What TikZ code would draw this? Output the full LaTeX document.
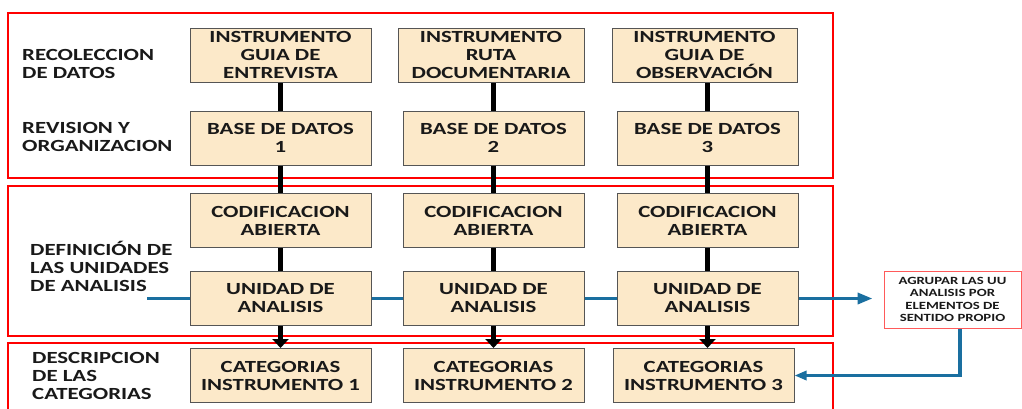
\documentclass[tikz,border=0pt]{standalone}
\usepackage{fontspec}
\usetikzlibrary{arrows.meta,calc}
\newfontfamily\bx[FakeStretch=1.34,UprightFont={* Bold}]{Carlito}
\definecolor{boxfill}{RGB}{252,233,201}
\definecolor{boxline}{RGB}{85,85,85}
\definecolor{flowblue}{RGB}{26,111,160}
\definecolor{frame}{RGB}{255,0,0}
\definecolor{lightred}{RGB}{255,90,90}
\tikzset{
  stepbox/.style={draw=boxline, line width=1pt, fill=boxfill, minimum width=181pt, minimum height=54pt,
    inner sep=0pt, align=center, font=\bx\fontsize{17}{18}\selectfont, text=black!90},
  sidelabel/.style={anchor=west, align=left, inner sep=0pt, font=\bx\fontsize{17}{18}\selectfont, text=black!90},
  stage/.style={draw=frame, line width=2.5pt},
  blackline/.style={line width=4.5pt, black},
  blackarrow/.style={blackline, -{Triangle[width=16pt,length=9pt]}},
  blueline/.style={line width=3.5pt, flowblue},
  bluearrow/.style={blueline, -{Triangle[width=11pt,length=15pt]}},
  bluearrowsmall/.style={blueline, -{Triangle[width=9pt,length=12pt]}},
  notebox/.style={draw=lightred, line width=1pt, fill=white, minimum width=137pt, minimum height=57pt,
    inner sep=0pt, align=center, font=\bx\fontsize{11}{12.2}\selectfont, text=black!90}
}
\begin{document}
\begin{tikzpicture}[x=1pt,y=-1pt]
\useasboundingbox (0,0) rectangle (1022,408);
\clip (0,0) rectangle (1022,408);
\fill[white] (0,0) rectangle (1022,408);
% stage frames
\draw[stage] (8,13) rectangle (833,178);
\draw[stage] (8,186) rectangle (833,336);
\draw[stage] (8,343) rectangle (833,420);
% side labels
\node[sidelabel] (l1) at (22,64) {RECOLECCION\\DE DATOS};
\node[sidelabel] (l2) at (22,137) {REVISION Y\\ORGANIZACION};
\node[sidelabel] (l3) at (30,266) {DEFINICIÓN DE\\LAS UNIDADES\\DE ANALISIS};
\node[sidelabel] (l4) at (32,376) {DESCRIPCION\\DE LAS\\CATEGORIAS};
% column 1
\node[stepbox] (i1) at (280.5,55) {INSTRUMENTO\\GUIA DE\\ENTREVISTA};
\node[stepbox] (b1) at (280.5,138) {BASE DE DATOS\\1};
\node[stepbox] (c1) at (280.5,220.5) {CODIFICACION\\ABIERTA};
\node[stepbox] (u1) at (280.5,298.5) {UNIDAD DE\\ANALISIS};
\node[stepbox] (k1) at (280.5,375.5) {CATEGORIAS\\INSTRUMENTO 1};
% column 2
\node[stepbox, minimum width=186pt] (i2) at (491,55) {INSTRUMENTO\\RUTA\\DOCUMENTARIA};
\node[stepbox] (b2) at (493.5,138) {BASE DE DATOS\\2};
\node[stepbox] (c2) at (493.5,220.5) {CODIFICACION\\ABIERTA};
\node[stepbox] (u2) at (493.5,298.5) {UNIDAD DE\\ANALISIS};
\node[stepbox] (k2) at (493.5,375.5) {CATEGORIAS\\INSTRUMENTO 2};
% column 3
\node[stepbox, minimum width=185pt] (i3) at (704.5,55) {INSTRUMENTO\\GUIA DE\\OBSERVACIÓN};
\node[stepbox] (b3) at (707.5,138) {BASE DE DATOS\\3};
\node[stepbox] (c3) at (707.5,220.5) {CODIFICACION\\ABIERTA};
\node[stepbox] (u3) at (707.5,298.5) {UNIDAD DE\\ANALISIS};
\node[stepbox] (k3) at (703.5,375.5) {CATEGORIAS\\INSTRUMENTO 3};
% note box
\node[notebox] (ag) at (952.5,299.5) {AGRUPAR LAS UU\\ANALISIS POR\\ELEMENTOS DE\\SENTIDO PROPIO};
% vertical connectors
\foreach \c in {1,2,3}{
  \draw[blackline] (b\c.north) -- (b\c.north |- i\c.south);
  \draw[blackline] (b\c.south) -- (c\c.north);
  \draw[blackline] (c\c.south) -- (u\c.north);
  \draw[blackarrow] (u\c.south) -- (u\c.south |- k\c.north);
}
% blue connectors
\coordinate (bstart) at (147,298.5);
\draw[blueline] (bstart) -- (u1.west);
\draw[blueline] (u1.east) -- (u2.west);
\draw[blueline] (u2.east) -- (u3.west);
\draw[bluearrow, shorten >=11pt] (u3.east) -- (u3.east -| ag.west);
\coordinate (agdown) at ($(ag.south)+(7.5,0)$);
\draw[bluearrowsmall] (agdown) |- (k3.east);
\end{tikzpicture}
\end{document}
